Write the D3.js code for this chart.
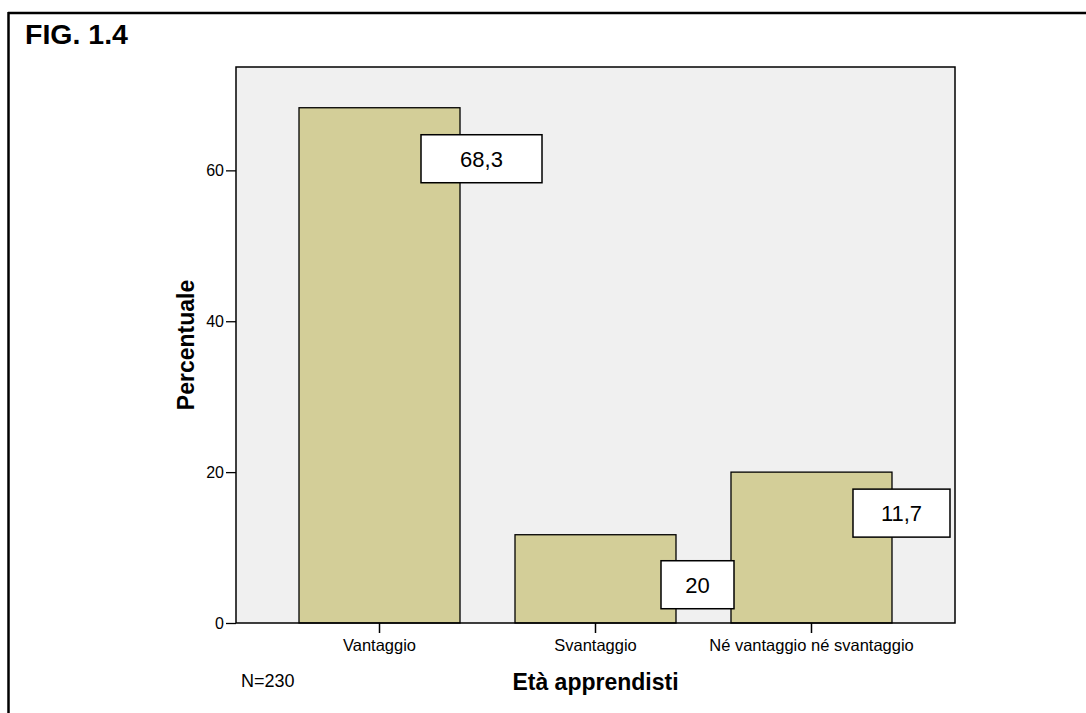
<!DOCTYPE html>
<html>
<head>
<meta charset="utf-8">
<script src="https://cdn.jsdelivr.net/npm/d3@7/dist/d3.min.js"></script>
<style>
  html, body { margin: 0; padding: 0; background: #ffffff; }
  svg { display: block; font-family: Arial, "Liberation Sans", sans-serif; }
</style>
</head>
<body>
<svg id="chart" width="1086" height="713"></svg>
<script>
// ---- data ----
const categories = ["Vantaggio", "Svantaggio", "Né vantaggio né svantaggio"];
const percentages = [68.3, 11.7, 20];
const valueLabels = ["68,3", "20", "11,7"];
const yTicks = [0, 20, 40, 60];
const figTitle = "FIG. 1.4";
const xTitle = "Età apprendisti";
const yTitle = "Percentuale";
const noteText = "N=230";

// ---- layout ----
const svg = d3.select("#chart");
const plot = { left: 236, right: 955, top: 67, bottom: 623 };

const x = d3.scaleBand()
  .domain(categories)
  .range([plot.left, plot.right])
  .paddingInner(0.2546)
  .paddingOuter(0.2917);

const y = d3.scaleLinear()
  .domain([0, 73.7])
  .range([plot.bottom, plot.top]);

// outer frame (top and left lines)
svg.append("line").attr("x1", 8).attr("x2", 1086).attr("y1", 13).attr("y2", 13)
  .attr("stroke", "#000").attr("stroke-width", 2.5);
svg.append("line").attr("x1", 8.5).attr("x2", 8.5).attr("y1", 12).attr("y2", 713)
  .attr("stroke", "#000").attr("stroke-width", 2.5);

// title
svg.append("text").attr("x", 25).attr("y", 44)
  .attr("font-size", 28.5).attr("font-weight", "bold").attr("fill", "#000")
  .text(figTitle);

// plot background
svg.append("rect")
  .attr("x", plot.left).attr("y", plot.top)
  .attr("width", plot.right - plot.left).attr("height", plot.bottom - plot.top)
  .attr("fill", "#f0f0f0");

// bars
svg.selectAll("rect.bar").data(categories).enter().append("rect")
  .attr("class", "bar")
  .attr("x", d => x(d))
  .attr("y", (d, i) => y(percentages[i]))
  .attr("width", x.bandwidth())
  .attr("height", (d, i) => y(0) - y(percentages[i]))
  .attr("fill", "#d3ce98")
  .attr("stroke", "#000").attr("stroke-width", 1.3);

// plot border
svg.append("rect")
  .attr("x", plot.left).attr("y", plot.top)
  .attr("width", plot.right - plot.left).attr("height", plot.bottom - plot.top)
  .attr("fill", "none").attr("stroke", "#000").attr("stroke-width", 1.5);

// y axis
const yAxis = d3.axisLeft(y).tickValues(yTicks).tickSize(10).tickPadding(2).tickFormat(d3.format("d"));
const gy = svg.append("g").attr("transform", `translate(${plot.left},0)`).call(yAxis);
gy.select(".domain").remove();
gy.selectAll(".tick line").attr("stroke", "#000").attr("stroke-width", 1.3);
gy.selectAll(".tick text").attr("font-size", 16).attr("fill", "#000")
  .attr("font-family", "Arial, 'Liberation Sans', sans-serif");

// x axis
const xAxis = d3.axisBottom(x).tickSize(10).tickPadding(6);
const gx = svg.append("g").attr("transform", `translate(0,${plot.bottom})`).call(xAxis);
gx.select(".domain").remove();
gx.selectAll(".tick line").attr("stroke", "#000").attr("stroke-width", 1.5);
gx.selectAll(".tick text").attr("font-size", 16.5).attr("fill", "#000")
  .attr("font-family", "Arial, 'Liberation Sans', sans-serif");

// value label boxes (offsets relative to each bar's right edge / top)
const labelLayout = [
  { dx: -39, w: 121, dy: 27 },
  { dx: -15, w: 73, dy: 26 },
  { dx: -39, w: 97, dy: 17 }
];
const boxH = 48;
const lab = svg.selectAll("g.vlabel").data(categories).enter().append("g").attr("class", "vlabel");
lab.append("rect")
  .attr("x", (d, i) => x(d) + x.bandwidth() + labelLayout[i].dx)
  .attr("y", (d, i) => y(percentages[i]) + labelLayout[i].dy)
  .attr("width", (d, i) => labelLayout[i].w)
  .attr("height", boxH)
  .attr("fill", "#fff").attr("stroke", "#000").attr("stroke-width", 1.5);
lab.append("text")
  .attr("x", (d, i) => x(d) + x.bandwidth() + labelLayout[i].dx + labelLayout[i].w / 2)
  .attr("y", (d, i) => y(percentages[i]) + labelLayout[i].dy + boxH / 2 + 8)
  .attr("text-anchor", "middle")
  .attr("font-size", 22).attr("fill", "#000")
  .text((d, i) => valueLabels[i]);

// axis titles
svg.append("text")
  .attr("x", (plot.left + plot.right) / 2).attr("y", 690)
  .attr("text-anchor", "middle").attr("font-size", 23).attr("font-weight", "bold")
  .text(xTitle);
svg.append("text")
  .attr("transform", `translate(194,${(plot.top + plot.bottom) / 2}) rotate(-90)`)
  .attr("text-anchor", "middle").attr("font-size", 23).attr("font-weight", "bold")
  .text(yTitle);

// note
svg.append("text").attr("x", 241).attr("y", 687)
  .attr("font-size", 18).attr("fill", "#000").text(noteText);
</script>
</body>
</html>
